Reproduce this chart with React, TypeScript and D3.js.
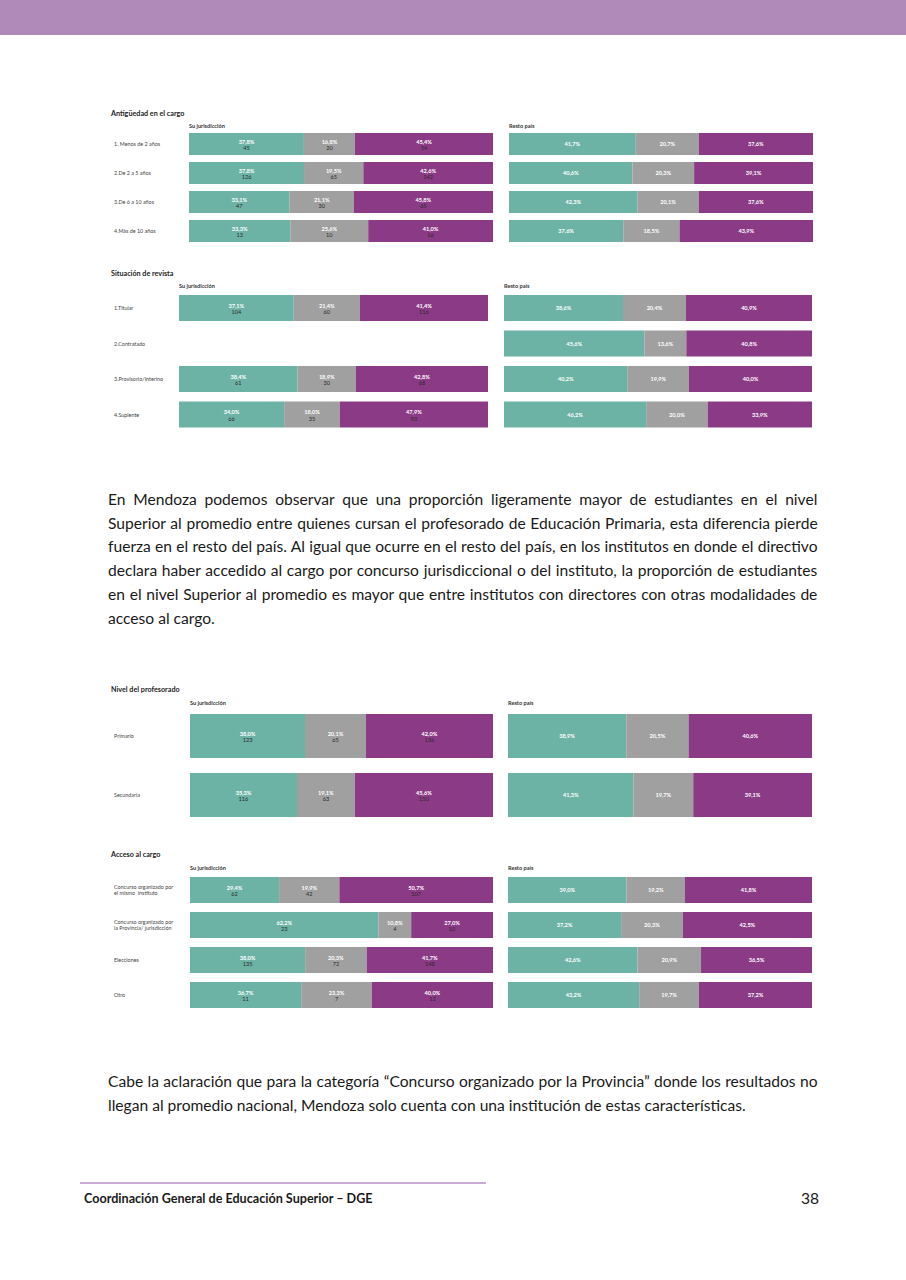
import React from "react";
import * as d3 from "d3";

// colours of the three answer groups (bajo / promedio / superior)
const groupColors = ["#6db3a5", "#a0a0a0", "#8b3a86"];

// --- Antigüedad en el cargo
const antigCats = ["1. Menos de 2 años", "2.De 2 a 5 años", "3.De 6 a 10 años", "4.Más de 10 años"];
const antigJurPct = [[37.8, 16.8, 45.4], [37.8, 19.5, 42.6], [33.1, 21.1, 45.8], [33.3, 25.6, 41.0]];
const antigJurN = [[45, 20, 54], [126, 65, 142], [47, 30, 65], [13, 10, 16]];
const antigPaisPct = [[41.7, 20.7, 37.6], [40.6, 20.3, 39.1], [42.3, 20.1, 37.6], [37.6, 18.5, 43.9]];

// --- Situación de revista
const revistaCats = ["1.Titular", "2.Contratado", "3.Provisorio/Interino", "4.Suplente"];
const revistaJurPct = [[37.1, 21.4, 41.4], null, [38.4, 18.9, 42.8], [34.0, 18.0, 47.9]];
const revistaJurN = [[104, 60, 116], null, [61, 30, 68], [66, 35, 93]];
const revistaPaisPct = [[38.6, 20.4, 40.9], [45.6, 13.6, 40.8], [40.2, 19.9, 40.0], [46.2, 20.0, 33.9]];

// --- Nivel del profesorado
const nivelCats = ["Primario", "Secundaria"];
const nivelJurPct = [[38.0, 20.1, 42.0], [35.3, 19.1, 45.6]];
const nivelJurN = [[123, 65, 136], [116, 63, 150]];
const nivelPaisPct = [[38.9, 20.5, 40.6], [41.3, 19.7, 39.1]];

// --- Acceso al cargo
const accesoCats = [
  "Concurso organizado por\nel mismo  instituto",
  "Concurso organizado por\nla Provincia/ jurisdicción",
  "Elecciones",
  "Otro",
];
const accesoJurPct = [[29.4, 19.9, 50.7], [62.2, 10.8, 27.0], [38.0, 20.3, 41.7], [36.7, 23.3, 40.0]];
const accesoJurN = [[62, 42, 107], [23, 4, 10], [135, 72, 148], [11, 7, 12]];
const accesoPaisPct = [[39.0, 19.2, 41.8], [37.2, 20.3, 42.5], [42.6, 20.9, 36.5], [43.2, 19.7, 37.2]];

const para1 = [
  "En Mendoza podemos observar que una proporción ligeramente mayor de estudiantes en el nivel",
  "Superior al promedio entre quienes cursan el profesorado de Educación Primaria, esta diferencia pierde",
  "fuerza en el resto del país. Al igual que ocurre en el resto del país, en los institutos en donde el directivo",
  "declara haber accedido al cargo por concurso jurisdiccional o del instituto, la proporción de estudiantes",
  "en el nivel Superior al promedio es mayor que entre institutos con directores con otras modalidades de",
  "acceso al cargo.",
];
const para2 = [
  "Cabe la aclaración que para la categoría “Concurso organizado por la Provincia” donde los resultados no",
  "llegan al promedio nacional, Mendoza solo cuenta con una institución de estas características.",
];

const FONT = "Lato, 'Open Sans', sans-serif";
const locale = d3.formatLocale({ decimal: ",", thousands: ".", grouping: [3], currency: ["$", ""] });
const fmtPct = (v: number) => locale.format(".1f")(v) + "%";

let ctx: CanvasRenderingContext2D | null = null;
function measure(text: string, font: string) {
  if (!ctx) ctx = document.createElement("canvas").getContext("2d");
  if (!ctx) return text.length * 7;
  ctx.font = font;
  return ctx.measureText(text).width;
}

interface PanelProps {
  cats: string[];
  pct: (number[] | null)[];
  counts?: (number[] | null)[];
  x0: number;
  x1: number;
  top: number;
  step: number;
  h: number;
  subtitle: string;
  subY: number;
}

const Panel: React.FC<PanelProps> = ({ cats, pct, counts, x0, x1, top, step, h, subtitle, subY }) => {
  const n = cats.length;
  const y = d3
    .scaleBand<string>()
    .domain(cats)
    .range([top, top + (n - 1) * step + h])
    .paddingInner(1 - h / step)
    .paddingOuter(0);
  const stack = d3.stack<number[], number>().keys([0, 1, 2]).value((d, k) => d[k]);
  return (
    <g>
      <text x={x0} y={subY} fontFamily={FONT} fontSize={5.6} fontWeight="bold" fill="#333">
        {subtitle}
      </text>
      {cats.map((c, i) => {
        const row = pct[i];
        if (!row) return null;
        const x = d3.scaleLinear().domain([0, d3.sum(row)]).range([x0, x1]);
        const series = stack([row]);
        const yy = y(c) as number;
        const cy = yy + h / 2;
        return (
          <g key={c}>
            {series.map((s, k) => {
              const [a, b] = s[0];
              const mid = (x(a) + x(b)) / 2;
              const cnt = counts && counts[i] ? counts[i]![k] : null;
              return (
                <g key={k}>
                  <rect x={x(a)} y={yy} width={x(b) - x(a)} height={h} fill={groupColors[k]} />
                  <text
                    x={mid}
                    y={cnt !== null ? cy - 0.5 : cy + 2}
                    textAnchor="middle"
                    fontFamily={FONT}
                    fontSize={5.6}
                    fontWeight="bold"
                    fill="#fff"
                  >
                    {fmtPct(row[k])}
                  </text>
                  {cnt !== null && (
                    <text x={mid} y={cy + 6} textAnchor="middle" fontFamily={FONT} fontSize={5.6} fill="#2a2a2a">
                      {cnt}
                    </text>
                  )}
                </g>
              );
            })}
          </g>
        );
      })}
    </g>
  );
};

interface SectionProps {
  title: string;
  titleY: number;
  cats: string[];
  jurPct: (number[] | null)[];
  jurN: (number[] | null)[];
  paisPct: number[][];
  top: number;
  step: number;
  h: number;
  subY: number;
  left: [number, number];
  right: [number, number];
}

const Section: React.FC<SectionProps> = p => {
  const y = d3
    .scaleBand<string>()
    .domain(p.cats)
    .range([p.top, p.top + (p.cats.length - 1) * p.step + p.h])
    .paddingInner(1 - p.h / p.step)
    .paddingOuter(0);
  return (
    <g>
      <text x={111} y={p.titleY} fontFamily={FONT} fontSize={7.2} fontWeight="bold" fill="#222">
        {p.title}
      </text>
      {p.cats.map(c => {
        const lines = c.split("\n");
        const cy = (y(c) as number) + p.h / 2;
        return (
          <text key={c} x={114} y={cy + 2 - ((lines.length - 1) * 6.8) / 2} fontFamily={FONT} fontSize={5.4} fill="#444">
            {lines.map((l, j) => (
              <tspan key={j} x={114} dy={j === 0 ? 0 : 6.8} style={{ whiteSpace: "pre" }}>
                {l}
              </tspan>
            ))}
          </text>
        );
      })}
      <Panel
        cats={p.cats}
        pct={p.jurPct}
        counts={p.jurN}
        x0={p.left[0]}
        x1={p.left[1]}
        top={p.top}
        step={p.step}
        h={p.h}
        subtitle="Su jurisdicción"
        subY={p.subY}
      />
      <Panel
        cats={p.cats}
        pct={p.paisPct}
        x0={p.right[0]}
        x1={p.right[1]}
        top={p.top}
        step={p.step}
        h={p.h}
        subtitle="Resto país"
        subY={p.subY}
      />
    </g>
  );
};

const Paragraph: React.FC<{ lines: string[]; x: number; y0: number; lh: number; width: number }> = ({
  lines,
  x,
  y0,
  lh,
  width,
}) => {
  const size = 15.6;
  const font = `${size}px Lato`;
  return (
    <g>
      {lines.map((l, i) => {
        const last = i === lines.length - 1;
        const gaps = l.split(" ").length - 1;
        const ws = last || gaps === 0 ? 0 : (width - measure(l, font)) / gaps;
        return (
          <text
            key={i}
            x={x}
            y={y0 + i * lh}
            fontFamily={FONT}
            fontSize={size}
            fill="#1a1a1a"
            style={{ wordSpacing: `${ws}px`, whiteSpace: "pre" }}
          >
            {l}
          </text>
        );
      })}
    </g>
  );
};

export default function App() {
  return (
    <svg width={906} height={1280} style={{ position: "absolute", left: 0, top: 0, background: "#fff" }}>
      <rect x={0} y={0} width={906} height={35} fill="#b08bba" />

      <Section
        title="Antigüedad en el cargo"
        titleY={115.5}
        cats={antigCats}
        jurPct={antigJurPct}
        jurN={antigJurN}
        paisPct={antigPaisPct}
        top={133}
        step={29}
        h={22}
        subY={128}
        left={[189, 493]}
        right={[509, 813]}
      />
      <Section
        title="Situación de revista"
        titleY={275.5}
        cats={revistaCats}
        jurPct={revistaJurPct}
        jurN={revistaJurN}
        paisPct={revistaPaisPct}
        top={295}
        step={35.5}
        h={26}
        subY={288}
        left={[179, 488]}
        right={[504, 812]}
      />

      <Paragraph lines={para1} x={108} y0={505} lh={23.7} width={710} />

      <Section
        title="Nivel del profesorado"
        titleY={691.5}
        cats={nivelCats}
        jurPct={nivelJurPct}
        jurN={nivelJurN}
        paisPct={nivelPaisPct}
        top={714}
        step={59}
        h={44}
        subY={705}
        left={[190, 493]}
        right={[508, 812]}
      />
      <Section
        title="Acceso al cargo"
        titleY={856.5}
        cats={accesoCats}
        jurPct={accesoJurPct}
        jurN={accesoJurN}
        paisPct={accesoPaisPct}
        top={877}
        step={35}
        h={26}
        subY={870}
        left={[190, 493]}
        right={[508, 812]}
      />

      <Paragraph lines={para2} x={108} y0={1087} lh={23.7} width={710} />

      <line x1={80} x2={486} y1={1183} y2={1183} stroke="#b98ec4" strokeWidth={1.5} />
      <text x={84} y={1203} fontFamily={FONT} fontSize={12.6} fontWeight="bold" fill="#1a1a1a">
        Coordinación General de Educación Superior – DGE
      </text>
      <text x={819} y={1204} textAnchor="end" fontFamily={FONT} fontSize={15.6} fill="#1a1a1a">
        38
      </text>
    </svg>
  );
}
